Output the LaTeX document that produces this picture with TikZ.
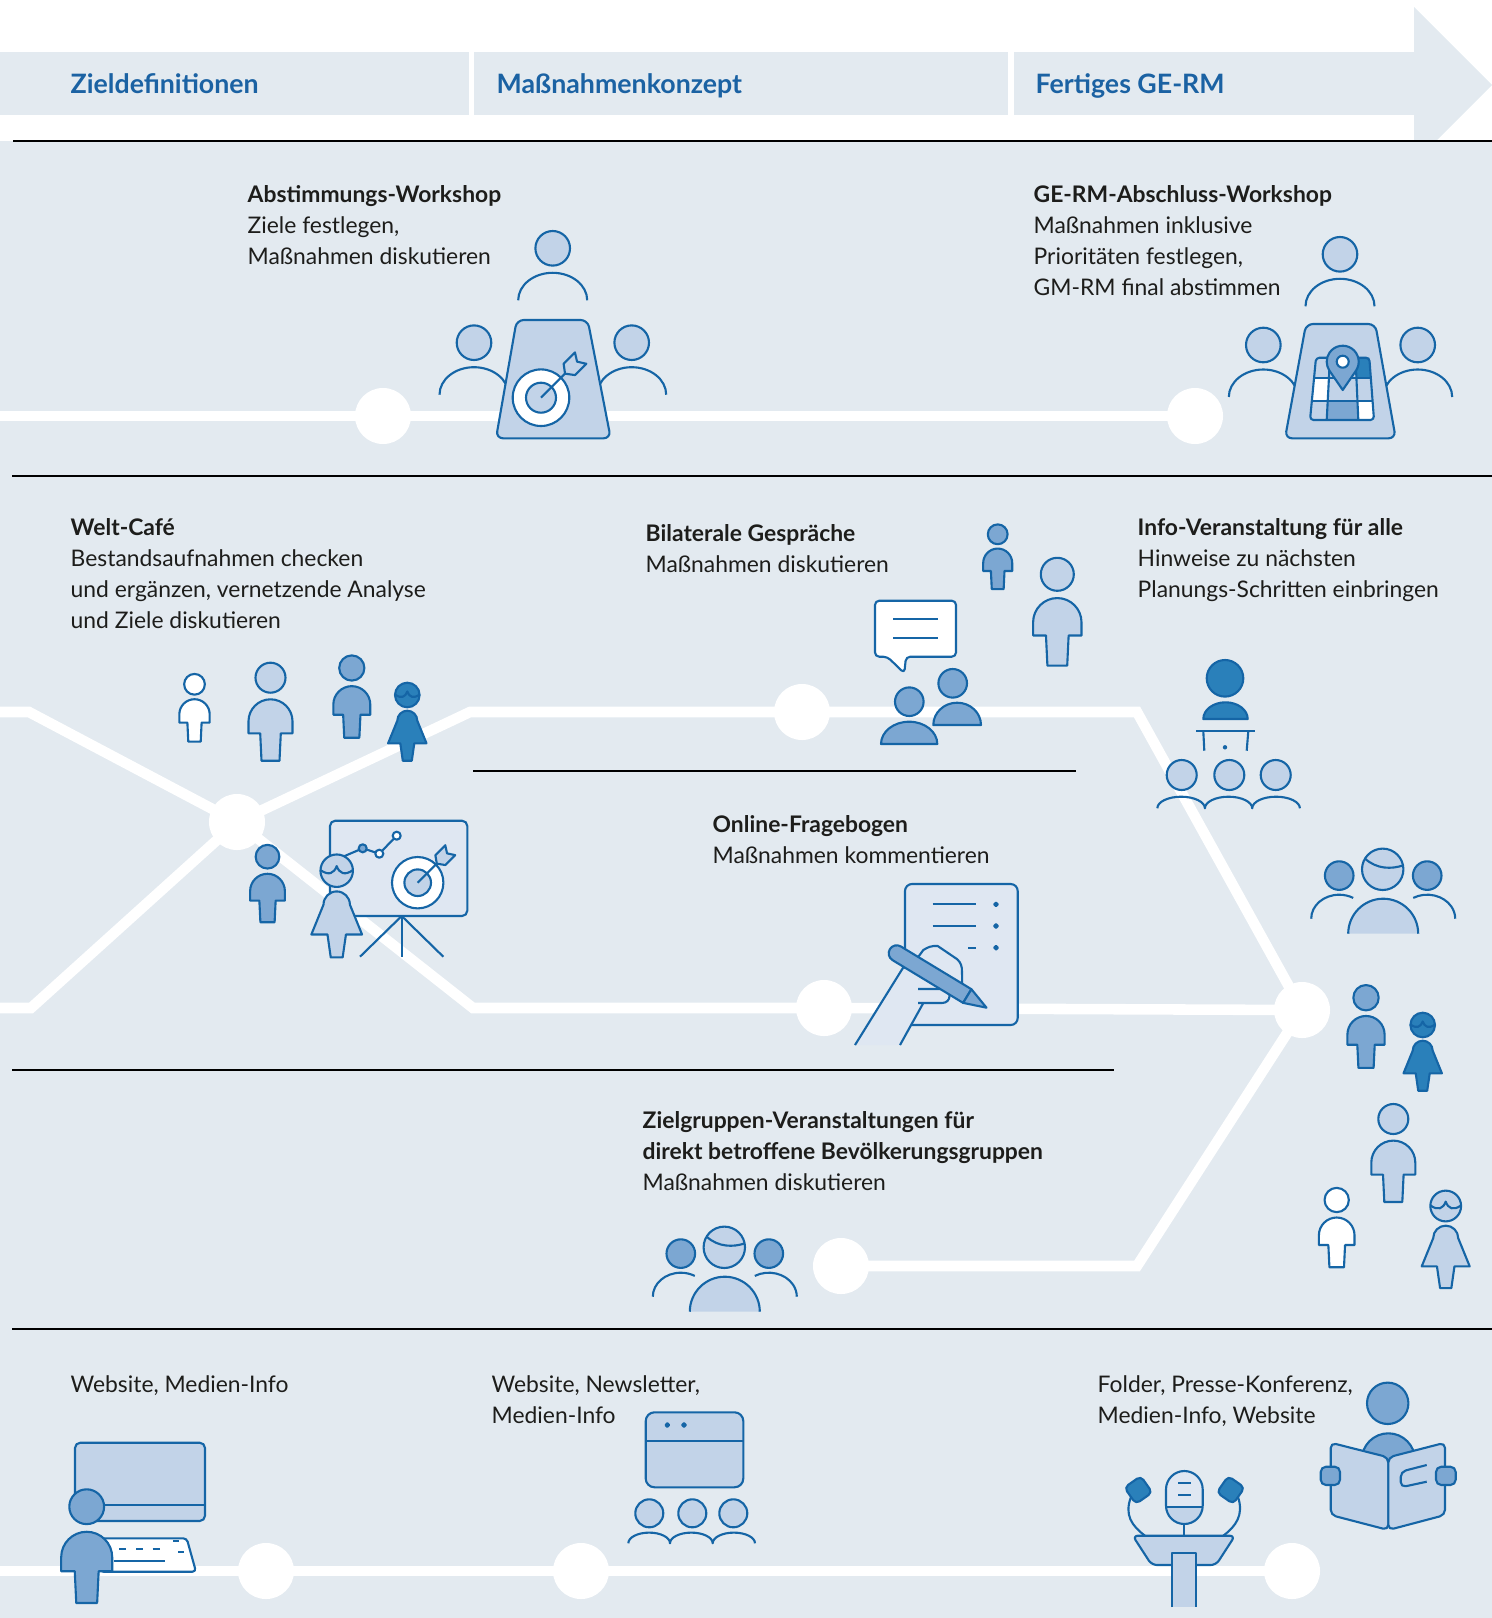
\documentclass[tikz,border=0pt]{standalone}
\usepackage{fontspec}
\setmainfont{Lato}
\usetikzlibrary{calc}
\definecolor{bgc}{HTML}{E3EAF0}
\definecolor{lb}{HTML}{C2D3E8}
\definecolor{mb}{HTML}{7CA7D2}
\definecolor{db}{HTML}{2A80BA}
\definecolor{sk}{HTML}{1565A6}
\definecolor{pale}{HTML}{DFE7F2}
\definecolor{hdr}{HTML}{1B62A3}
\definecolor{ink}{HTML}{1D1D1B}
\newcommand{\blk}[1]{\begin{tabular}[t]{@{}l@{}}#1\end{tabular}}
\tikzset{
  ic/.style={draw=sk,line width=0.6pt,line join=round},
  % standing man, head centre at origin
  pics/man/.style={code={
    \path[ic,fill=#1] (-22,55.6) -- (-22,43.6) arc[start angle=180,end angle=360,radius=22]
      -- (22,55.6) -- (10.3,55.6) -- (9,83) -- (-9,83) -- (-10.3,55.6) -- cycle;
    \path[ic,fill=#1] (0,0) circle[radius=15];
  }},
  % standing woman, head centre at origin
  pics/woman/.style={code={
    \path[ic,fill=#1] (-19.2,48.3) -- (-10,25.7) arc[start angle=180,end angle=360,radius=10]
      -- (19.2,48.3) -- (7,48.3) -- (4.5,65.7) -- (-4.5,65.7) -- (-7,48.3) -- cycle;
    \path[ic,fill=#1] (0,0) circle[radius=12.3];
    \draw[ic] (-12.3,-0.5) .. controls (-6,4) and (-2,2) .. (0,-3.5) .. controls (2,2) and (6,4) .. (12.3,-0.5);
  }},
  % seated person behind a table
  pics/seat/.style={code={
    \draw[ic] (-34.5,52) arc[start angle=180,end angle=360,x radius=34.5,y radius=27.5];
    \path[ic,fill=lb] (0,0) circle[radius=17.3];
  }},
  % group of three busts, centre head at origin
  pics/trio/.style={code={
    \draw[ic] (-71.5,49.4) arc[start angle=180,end angle=300,x radius=28,y radius=24];
    \draw[ic] (30.5,28.6) arc[start angle=240,end angle=360,x radius=28,y radius=24];
    \path[ic,fill=mb] (-43.5,6.3) circle[radius=14.3];
    \path[ic,fill=mb] (44.5,6.3) circle[radius=14.3];
    \fill[lb] (-34.5,64.4) arc[start angle=180,end angle=360,radius=35] -- cycle;
    \draw[ic] (-34.5,64.4) arc[start angle=180,end angle=360,radius=35];
    \path[ic,fill=lb] (0,0) circle[radius=20.7];
    \draw[ic] (-17.7,-10.7) .. controls (-6,0) and (9,0) .. (20.6,-4);
  }},
  % small loudspeaker, tilted rounded square
  pics/speaker/.style={code={
    \path[ic,fill=db,rounded corners=1.3pt,rotate=#1] (-10,-10) rectangle (10,10);
  }},
}
\begin{document}
\begin{tikzpicture}[x=0.01cm,y=-0.01cm,
  txt/.style={anchor=base west,inner sep=0pt,text=ink,font=\fontsize{6.5}{8.82}\selectfont},
  hd/.style={anchor=base west,inner sep=0pt,text=hdr,font=\fontsize{7.6}{9}\selectfont\bfseries},
  track/.style={draw=white,line width=3pt},
  station/.style={circle,fill=white,minimum size=0.56cm,inner sep=0pt},
  rule/.style={draw=black,line width=0.35pt}]
\useasboundingbox (0,0) rectangle (1492,1618);

% ---------- phase arrow ----------
\fill[bgc] (0,52) rectangle (469,115);
\fill[bgc] (474,52) rectangle (1008,115);
\fill[bgc] (1014,52) rectangle (1414,115);
\fill[bgc] (1414,7) -- (1492,85) -- (1414,163) -- cycle;
\node[hd] (h1) at (70,93) {Zieldefinitionen};
\node[hd] (h2) at (496,93) {Maßnahmenkonzept};
\node[hd] (h3) at (1035,93) {Fertiges GE-RM};

% ---------- panel ----------
\fill[bgc] (0,141) rectangle (1492,1618);
\draw[black,line width=0.75pt] (13,141) -- (1492,141);
\draw[rule] (12,476) -- (1492,476);
\draw[rule] (473,771) -- (1076,771);
\draw[rule] (12,1070) -- (1114,1070);
\draw[rule] (12,1329) -- (1492,1329);

% ---------- tracks and stations ----------
\node[station] (s1) at (383,416) {};
\node[station] (s2) at (1195,416) {};
\coordinate (p0) at (0,416);
\draw[track] (p0) -- (s1.center) -- (s2.center);

\node[station] (j1) at (237,822) {};
\node[station] (s3) at (802,712) {};
\node[station] (s4) at (824,1008) {};
\node[station] (j2) at (1302,1010) {};
\node[station] (s5) at (841,1266) {};
\coordinate (p1) at (0,712);
\coordinate (p2) at (29,712);
\coordinate (p3) at (470,712);
\coordinate (p4) at (1137,712);
\coordinate (p5) at (0,1008);
\coordinate (p6) at (31,1008);
\coordinate (p7) at (473,1008);
\coordinate (p8) at (1137,1266);
\draw[track] (p1) -- (p2) -- (j1.center) -- (p3) -- (s3.center) -- (p4) -- (j2.center);
\draw[track] (p5) -- (p6) -- (j1.center) -- (p7) -- (s4.center) -- (j2.center);
\draw[track] (j2.center) -- (p8) -- (s5.center);

\node[station] (s6) at (266,1571) {};
\node[station] (s7) at (581,1571) {};
\node[station] (s8) at (1292,1571) {};
\coordinate (p9) at (0,1571);
\draw[track] (p9) -- (s6.center) -- (s7.center) -- (s8.center);

% ---------- texts ----------
\node[txt] (t1) at (247,202) {\blk{\textbf{Abstimmungs-Workshop}\\Ziele festlegen,\\Maßnahmen diskutieren}};
\node[txt] (t2) at (1033,202) {\blk{\textbf{GE-RM-Abschluss-Workshop}\\Maßnahmen inklusive\\Prioritäten festlegen,\\GM-RM final abstimmen}};
\node[txt] (t3) at (70,535) {\blk{\textbf{Welt-Café}\\Bestandsaufnahmen checken\\und ergänzen, vernetzende Analyse\\und Ziele diskutieren}};
\node[txt] (t4) at (645,541) {\blk{\textbf{Bilaterale Gespräche}\\Maßnahmen diskutieren}};
\node[txt] (t5) at (1137,535) {\blk{\textbf{Info-Veranstaltung für alle}\\Hinweise zu nächsten\\Planungs-Schritten einbringen}};
\node[txt] (t6) at (712,832) {\blk{\textbf{Online-Fragebogen}\\Maßnahmen kommentieren}};
\node[txt] (t7) at (642,1128) {\blk{\textbf{Zielgruppen-Veranstaltungen für}\\\textbf{direkt betroffene Bevölkerungsgruppen}\\Maßnahmen diskutieren}};
\node[txt] (t8) at (70,1392) {\blk{Website, Medien-Info}};
\node[txt] (t9) at (491,1392) {\blk{Website, Newsletter,\\Medien-Info}};
\node[txt] (t10) at (1097,1392) {\blk{Folder, Presse-Konferenz,\\Medien-Info, Website}};

% ---------- workshop table with target ----------
\pic at (552.7,248.3) {seat};
\pic at (474,342.7) {seat};
\pic at (631.7,342.7) {seat};
\path[ic,fill=lb,rounded corners=2pt] (516.7,320) -- (587.7,320) -- (610.7,438.3) -- (496,438.3) -- cycle;
\path[ic,fill=white] (541,397.7) circle[radius=28.3];
\path[ic,fill=lb] (541,397.7) circle[radius=15];
\begin{scope}[shift={(541,397.7)},rotate=45]
  \draw[ic] (0,0) -- (36,0);
  \path[ic,fill=lb] (34,0) -- (40,-8) -- (56,-8) -- (51,0) -- (56,8) -- (40,8) -- cycle;
\end{scope}

% ---------- closing workshop table with map ----------
\pic at (1340,254.3) {seat};
\pic at (1263.3,345) {seat};
\pic at (1417.7,345) {seat};
\path[ic,fill=lb,rounded corners=2pt] (1306,324) -- (1375.3,324) -- (1395.7,438.3) -- (1285,438.3) -- cycle;
\path[fill=lb] (1316,357.7) -- (1369.3,357.7) -- (1374,420) -- (1310,420) -- cycle;
\fill[white] (1314,378.3) -- (1328.9,378.3) -- (1327.7,401) -- (1311.8,401) -- cycle;
\fill[white] (1357.4,401) -- (1372.6,401) -- (1374,420) -- (1358.3,420) -- cycle;
\fill[mb] (1327.7,401) -- (1357.4,401) -- (1358.3,420) -- (1326.7,420) -- cycle;
\fill[db] (1355.5,357.7) -- (1369.3,357.7) -- (1370.9,378.3) -- (1356.4,378.3) -- cycle;
\draw[ic] (1330,357.7) -- (1326.7,420);
\draw[ic] (1355.5,357.7) -- (1358.3,420);
\draw[ic] (1314,378.3) -- (1370.9,378.3);
\draw[ic] (1311.8,401) -- (1372.6,401);
\draw[ic,rounded corners=1pt] (1316,357.7) -- (1369.3,357.7) -- (1374,420) -- (1310,420) -- cycle;
\path[ic,fill=mb] (1342.7,390) -- (1355.9,370.75) arc[start angle=34.4,end angle=-214.4,radius=16] -- cycle;
\path[ic,fill=white] (1342.7,361.7) circle[radius=6];

% ---------- world cafe ----------
\pic[scale=0.69] at (194.5,684.3) {man=white};
\pic at (270.5,677.7) {man=lb};
\pic[scale=0.84] at (351.8,668) {man=mb};
\pic at (407.3,695) {woman=db};
\path[ic,fill=pale,rounded corners=1.5pt] (330,820.7) rectangle (467.3,916);
\draw[ic] (340,858) -- (362.7,848.3) -- (379.3,853.7) -- (396.7,835.7);
\path[ic,fill=mb] (362.7,848.3) circle[radius=4];
\path[ic,fill=white] (379.3,853.7) circle[radius=4];
\path[ic,fill=white] (396.7,835.7) circle[radius=4];
\path[ic,fill=white] (417.7,882.7) circle[radius=25.7];
\path[ic,fill=lb] (417.7,882.7) circle[radius=13.3];
\begin{scope}[shift={(417.7,882.7)},rotate=45]
  \draw[ic] (0,0) -- (29,0);
  \path[ic,fill=lb] (27,0) -- (32,-7) -- (46,-7) -- (41.5,0) -- (46,7) -- (32,7) -- cycle;
\end{scope}
\draw[ic] (401.7,916) -- (360,956.7);
\draw[ic] (401.7,916) -- (401.7,956.7);
\draw[ic] (401.7,916) -- (443.3,956.7);
\pic[scale=0.79] at (267.5,856.7) {man=mb};
\pic[scale=1.32] at (336.7,870.7) {woman=lb};

% ---------- bilateral talks ----------
\path[ic,fill=white,rounded corners=1.2pt] (887.3,656.7) -- (875,656.7) -- (875,600.7) -- (956,600.7) -- (956,656.7) -- (906,656.7) -- (904.3,673.3) -- cycle;
\draw[ic] (893.3,619.3) -- (937.7,619.3);
\draw[ic] (893.3,637.7) -- (937.7,637.7);
\path[ic,fill=mb] (933.3,725) arc[start angle=180,end angle=360,x radius=23.85,y radius=22.3] -- cycle;
\path[ic,fill=mb] (952.7,683.3) circle[radius=14.3];
\path[ic,fill=mb] (881,744) arc[start angle=180,end angle=360,x radius=28.15,y radius=22.3] -- cycle;
\path[ic,fill=mb] (909.3,701.7) circle[radius=14.3];
\pic[scale=0.66] at (997.7,534.3) {man=mb};
\pic[scale=1.1] at (1057.3,574.3) {man=lb};

% ---------- information event ----------
\path[ic,fill=db] (1203.3,719) arc[start angle=180,end angle=360,x radius=22.2,y radius=16.7] -- cycle;
\path[ic,fill=db] (1225,678.3) circle[radius=18.3];
\draw[ic] (1196,731) -- (1255,731);
\draw[ic] (1203.3,731) -- (1204.3,750.7);
\draw[ic] (1248.3,731) -- (1246.7,750.7);
\fill[sk] (1225,747.3) circle[radius=2.2];
\path[ic,fill=lb] (1181.7,775) circle[radius=15];
\path[ic,fill=lb] (1229.3,775) circle[radius=15];
\path[ic,fill=lb] (1275.7,775) circle[radius=15];
\draw[ic] (1157.3,808.3) arc[start angle=180,end angle=360,x radius=23.8,y radius=11.6]
  arc[start angle=180,end angle=360,x radius=23.65,y radius=11.6]
  arc[start angle=180,end angle=360,x radius=23.85,y radius=11.6];

% ---------- people on the right ----------
\pic at (1382.7,869.3) {trio};
\pic[scale=0.845] at (1366,997.7) {man=mb};
\pic at (1422.7,1025) {woman=db};
\pic at (1393.3,1119) {man=lb};
\pic[scale=0.81] at (1336.7,1200) {man=white};
\pic[scale=1.25] at (1445.7,1206) {woman=lb};

% ---------- online questionnaire ----------
\path[ic,fill=pale,rounded corners=2pt] (905,884) rectangle (1017.7,1025);
\draw[ic] (932.7,904.3) -- (976,904.3);
\draw[ic] (932.7,926) -- (976,926);
\draw[ic] (968.3,947.7) -- (976,947.7);
\draw[ic] (996,904.3) circle[radius=1.8];
\draw[ic] (996,926) circle[radius=1.8];
\draw[ic] (996,947.7) circle[radius=1.8];
\fill[pale] (855,1045) -- (903.3,970) -- (923.3,950) .. controls (928,947) and (932,945.5) .. (937.7,946)
  -- (957.3,959.3) .. controls (961,963) and (962,966) .. (962,972) -- (962.3,992) -- (950,1002.7)
  -- (923.3,1005) -- (900,1045) -- cycle;
\draw[ic] (855,1045) -- (906,963);
\draw[ic] (916,960) -- (923.3,950) .. controls (928,947) and (932,945.5) .. (937.7,946)
  -- (957.3,959.3) .. controls (961,963) and (962,966) .. (962,972) -- (962.3,990);
\draw[ic] (923.3,1003) -- (900,1045);
\path[ic,fill=pale] (918,989) -- (942,989) .. controls (952,989) and (952,1003) .. (942,1003) -- (918,1003);
\begin{scope}[shift={(896.7,953.3)},rotate=-31.2]
  \path[ic,fill=mb] (0,-8) -- (82.5,-8) -- (82.5,8) -- (0,8) arc[start angle=90,end angle=270,radius=8] -- cycle;
  \path[ic,fill=mb] (82.5,-8) -- (105,0) -- (82.5,8) -- cycle;
\end{scope}

% ---------- target group events ----------
\pic at (724.3,1247.3) {trio};

% ---------- website ----------
\path[ic,fill=lb,rounded corners=1.5pt] (75,1442.7) rectangle (205,1521);
\draw[ic] (75,1505) -- (205,1505);
\path[ic,fill=white,rounded corners=1pt] (100,1538.3) -- (186.7,1538.3) -- (196,1571.7) -- (100,1571.7) -- cycle;
\draw[ic] (119.3,1549.3) -- (126,1549.3);
\draw[ic] (136,1549.3) -- (142.7,1549.3);
\draw[ic] (152.7,1549.3) -- (160,1549.3);
\draw[ic] (173.3,1540.7) -- (179.3,1540.7);
\draw[ic] (178.3,1551.7) -- (184,1551.7);
\draw[ic] (114,1561) -- (165,1561);
\pic[scale=1.16] at (86.7,1506.7) {man=mb};

% ---------- newsletter ----------
\path[ic,fill=lb,rounded corners=2.5pt] (645.7,1412.3) rectangle (743.3,1487.3);
\draw[ic] (645.7,1441) -- (743.3,1441);
\draw[ic] (667.3,1425) circle[radius=1.8];
\draw[ic] (684,1425) circle[radius=1.8];
\path[ic,fill=lb] (649.3,1513.3) circle[radius=14];
\path[ic,fill=lb] (692.3,1513.3) circle[radius=14];
\path[ic,fill=lb] (733.3,1513.3) circle[radius=14];
\draw[ic] (628.3,1543.3) arc[start angle=180,end angle=360,x radius=20.85,y radius=10.7]
  arc[start angle=180,end angle=360,x radius=21.35,y radius=10.7]
  arc[start angle=180,end angle=360,x radius=21.15,y radius=10.7];

% ---------- press conference ----------
\draw[ic] (1131,1497) .. controls (1124,1515) and (1132,1526) .. (1145,1535.7);
\draw[ic] (1238,1497) .. controls (1244,1515) and (1236,1526) .. (1223.3,1535.7);
\pic at (1138.3,1490) {speaker=35};
\pic at (1230.7,1490) {speaker=-35};
\fill[pale] (1166,1489.35) arc[start angle=180,end angle=360,radius=18.35] -- (1202.7,1505.65) arc[start angle=0,end angle=180,radius=18.35] -- cycle;
\begin{scope}
  \clip (1160,1506.7) rectangle (1210,1530);
  \fill[lb] (1166,1489.35) arc[start angle=180,end angle=360,radius=18.35] -- (1202.7,1505.65) arc[start angle=0,end angle=180,radius=18.35] -- cycle;
\end{scope}
\draw[ic] (1166,1489.35) arc[start angle=180,end angle=360,radius=18.35] -- (1202.7,1505.65) arc[start angle=0,end angle=180,radius=18.35] -- cycle;
\draw[ic] (1166,1506.7) -- (1202.7,1506.7);
\draw[ic] (1178.3,1483.3) -- (1190.7,1483.3);
\draw[ic] (1178.3,1495) -- (1190.7,1495);
\draw[ic] (1184,1524) -- (1184,1535.7);
\path[ic,fill=lb,rounded corners=1.5pt] (1132.7,1535.7) -- (1235,1535.7) -- (1216,1565) -- (1151.7,1565) -- cycle;
\fill[lb] (1172.3,1553.3) rectangle (1196,1607);
\draw[ic] (1172.3,1607) -- (1172.3,1553.3) -- (1196,1553.3) -- (1196,1607);

% ---------- reader ----------
\path[ic,fill=mb] (1361.7,1460) arc[start angle=180,end angle=360,x radius=26.65,y radius=26.7] -- cycle;
\path[ic,fill=mb] (1387.7,1403.3) circle[radius=20.7];
\path[ic,fill=lb,rounded corners=1.5pt] (1388.3,1457.3) -- (1330.7,1442.7) -- (1330.7,1515) -- (1388.3,1530) -- cycle;
\path[ic,fill=lb,rounded corners=1.5pt] (1388.3,1457.3) -- (1445,1442.7) -- (1445,1515) -- (1388.3,1530) -- cycle;
\path[ic,fill=mb,rounded corners=1.5pt] (1320.7,1466.7) rectangle (1340,1485);
\path[ic,fill=mb,rounded corners=1.5pt] (1436,1466.7) rectangle (1455.7,1485);
\draw[ic,rounded corners=1.5pt] (1426.7,1465) -- (1400.7,1471.7) -- (1400.7,1487.3) -- (1426.7,1481.7);
\end{tikzpicture}
\end{document}
